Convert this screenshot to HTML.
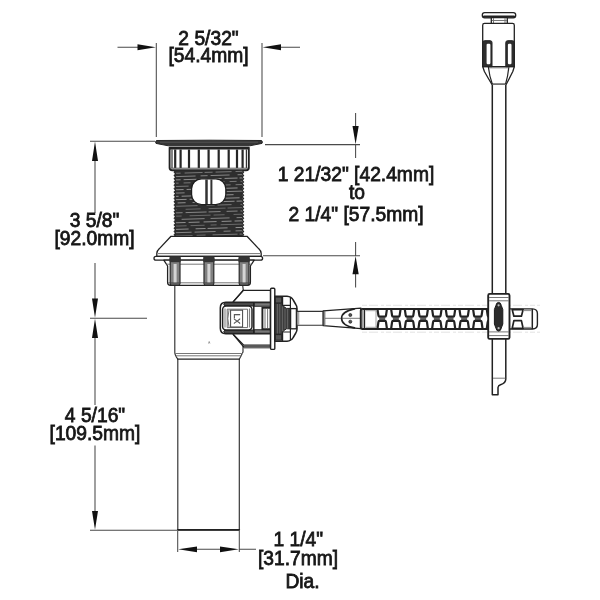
<!DOCTYPE html>
<html><head><meta charset="utf-8"><title>Drain dimensions</title>
<style>
html,body{margin:0;padding:0;background:#fff;width:600px;height:600px;overflow:hidden}
svg{display:block;opacity:.999;will-change:transform}
text{font-family:"Liberation Sans",sans-serif;font-size:19.8px;fill:#161616;stroke:#161616;stroke-width:.8px;text-anchor:middle}
.d{stroke:#4a4a4a;stroke-width:1.05;fill:none}
.a{fill:#111;stroke:none}
.o{stroke:#222;stroke-width:1.3;fill:#fff;stroke-linejoin:round}
.l{stroke:#222;stroke-width:1.2;fill:none;stroke-linecap:round;stroke-linejoin:round}
.g{stroke:#777;stroke-width:1;fill:none}
.k{fill:#333;stroke:#222;stroke-width:1}
</style></head><body>
<svg width="600" height="600" viewBox="0 0 600 600">
<rect width="600" height="600" fill="#fff"/>

<!-- ===== DIMENSIONS ===== -->
<g id="dims">
<!-- top width -->
<path class="d" d="M156.3 43V137M262 43V137M117.5 47.3H140M280 47.3H300"/>
<polygon class="a" points="155.8,47.3 137.5,44.3 137.5,50.3"/>
<polygon class="a" points="262.6,47.3 281,44.3 281,50.3"/>
<!-- left -->
<path class="d" d="M90 141.2H155M90 318.3H147M95 160V213M95 263V300M95 336V405M95 445.5V513M90 530.2H177"/>
<polygon class="a" points="95,141.6 92,161 98,161"/>
<polygon class="a" points="95,317.8 92,298.5 98,298.5"/>
<polygon class="a" points="95,318.8 92,338 98,338"/>
<polygon class="a" points="95,529.8 92,511 98,511"/>
<!-- right -->
<path class="d" d="M265 144.6H360M263 255.8H360M355.6 113V127M355.6 144V158M355.6 242V256M355.6 273V287.5"/>
<polygon class="a" points="355.6,144.2 352.5,126 358.7,126"/>
<polygon class="a" points="355.6,256 352.5,274.2 358.7,274.2"/>
<!-- bottom -->
<path class="d" d="M177.7 531V552M239.3 531V552M196 549.3H221M239.3 549.3H256"/>
<polygon class="a" points="178.2,549.3 197,546.4 197,552.2"/>
<polygon class="a" points="238.8,549.3 220,546.4 220,552.2"/>
</g>

<!-- ===== TEXT ===== -->
<g id="labels">
<text transform="translate(208.5 44.7) scale(.972 1)">2 5/32"</text>
<text transform="translate(208.5 61.7) scale(.972 1)">[54.4mm]</text>
<text transform="translate(94.5 226.7) scale(.972 1)">3 5/8"</text>
<text transform="translate(94.5 245) scale(.972 1)">[92.0mm]</text>
<text transform="translate(95 422.4) scale(.972 1)">4 5/16"</text>
<text transform="translate(95 440.4) scale(.972 1)">[109.5mm]</text>
<text transform="translate(356 180.8) scale(.972 1)">1 21/32" [42.4mm]</text>
<text transform="translate(357 199.2) scale(.972 1)">to</text>
<text transform="translate(356 221.4) scale(.972 1)">2 1/4" [57.5mm]</text>
<text transform="translate(298.3 546) scale(.972 1)">1 1/4"</text>
<text transform="translate(298 565) scale(.972 1)">[31.7mm]</text>
<text transform="translate(302.5 588.3) scale(.972 1)">Dia.</text>
</g>

<!-- ===== DRAIN BODY ===== -->
<g id="drain">
<!-- tailpiece + body -->
<path class="o" d="M174.8 284V352.5Q174.8 355 177.8 359.2V529.8H239.3V359.2L243 352V346.5L243.3 290.3L242.5 284Z" style="stroke:#303030;stroke-width:1.15"/>
<path class="l" style="stroke-width:1.7" d="M177.8 529.8H239.3"/>
<path class="g" d="M175 353.5H243M176 355.8H241.5"/>
<path class="l" d="M177.7 359.2H239.3"/>
<path d="M208.5 343.5l.7-2 .7 2" class="g" style="stroke-width:.7"/>
<!-- cap -->
<path d="M155.6 142L156.4 140.5Q209 139.9 261.6 140.5L262.4 142L262 143.4L249.8 145.8H168.4L156 143.4Z" fill="#363636" stroke="#262626" stroke-width="1" stroke-linejoin="round"/>
<path d="M160 142.2H258" stroke="#5c5c5c" stroke-width=".8" fill="none"/>
<!-- knurled nut -->
<path class="o" d="M169.6 147.8H248.8V167.7Q248.8 170.2 246.1 170.2H172.3Q169.6 170.2 169.6 167.7Z" style="stroke-width:1.9"/>
<path d="M175.2 149.5V168M180.6 149.5V168M189 149.5V168M198.8 149.5V168M208.6 149.5V168M218.7 149.5V168M228.7 149.5V168M237 149.5V168M242.6 149.5V168" stroke="#262626" stroke-width="2.2" fill="none"/>
<path d="M172 149.5V168M246.4 149.5V168" stroke="#333" stroke-width="1.2" fill="none"/>
<path d="M169.3 148.5H249" stroke="#222" stroke-width="2" fill="none"/>
<path class="g" d="M170.5 168.2H248" style="stroke:#555"/>
<!-- threaded body -->
<rect x="175" y="170.5" width="67.8" height="65.8" fill="#2e2e2e"/>
<g stroke-width=".8" fill="none"><path d="M175.6 173.3L242.4 171.3" stroke="#8a8a8a" stroke-dasharray="16 4 18 2 8 3" stroke-dashoffset="11"/><path d="M175.6 176.6L242.4 174.6" stroke="#9c9c9c" stroke-dasharray="22 5 7 3 19 8" stroke-dashoffset="2"/><path d="M175.6 179.9L242.4 177.9" stroke="#a8a8a8" stroke-dasharray="8 8 7 3 13 2" stroke-dashoffset="18"/><path d="M175.6 183.2L242.4 181.2" stroke="#8a8a8a" stroke-dasharray="7 5 7 4 15 8" stroke-dashoffset="4"/><path d="M175.6 186.5L242.4 184.5" stroke="#8a8a8a" stroke-dasharray="24 6 23 4 9 5" stroke-dashoffset="11"/><path d="M175.6 189.8L242.4 187.8" stroke="#a8a8a8" stroke-dasharray="23 3 24 2 25 5" stroke-dashoffset="15"/><path d="M175.6 193.1L242.4 191.1" stroke="#9c9c9c" stroke-dasharray="16 9 24 9 17 6" stroke-dashoffset="7"/><path d="M175.6 196.4L242.4 194.4" stroke="#a8a8a8" stroke-dasharray="13 3 24 6 22 9" stroke-dashoffset="10"/><path d="M175.6 199.7L242.4 197.7" stroke="#a8a8a8" stroke-dasharray="15 3 9 8 11 7" stroke-dashoffset="4"/><path d="M175.6 203.0L242.4 201.0" stroke="#a8a8a8" stroke-dasharray="19 2 8 7 16 7" stroke-dashoffset="19"/><path d="M175.6 206.3L242.4 204.3" stroke="#8a8a8a" stroke-dasharray="24 9 8 3 14 9" stroke-dashoffset="2"/><path d="M175.6 209.6L242.4 207.6" stroke="#777" stroke-dasharray="15 9 15 8 17 2" stroke-dashoffset="14"/><path d="M175.6 212.9L242.4 210.9" stroke="#9c9c9c" stroke-dasharray="11 3 21 2 12 6" stroke-dashoffset="4"/><path d="M175.6 216.2L242.4 214.2" stroke="#777" stroke-dasharray="18 8 21 3 11 9" stroke-dashoffset="12"/><path d="M175.6 219.5L242.4 217.5" stroke="#9c9c9c" stroke-dasharray="10 8 23 6 19 7" stroke-dashoffset="12"/><path d="M175.6 222.8L242.4 220.8" stroke="#a8a8a8" stroke-dasharray="10 3 11 4 13 5" stroke-dashoffset="0"/><path d="M175.6 226.1L242.4 224.1" stroke="#777" stroke-dasharray="24 4 14 6 6 4" stroke-dashoffset="13"/><path d="M175.6 229.4L242.4 227.4" stroke="#a8a8a8" stroke-dasharray="25 7 10 2 20 8" stroke-dashoffset="12"/><path d="M175.6 232.7L242.4 230.7" stroke="#9c9c9c" stroke-dasharray="18 3 21 8 7 5" stroke-dashoffset="2"/><path d="M175.6 236.0L242.4 234.0" stroke="#8a8a8a" stroke-dasharray="20 4 9 7 25 2" stroke-dashoffset="3"/></g>
<path d="M175.2 170.5L174.2 172.1L175.6 173.8L174.2 175.4L175.6 177.1L174.2 178.7L175.6 180.4L174.2 182.0L175.6 183.7L174.2 185.3L175.6 187.0L174.2 188.6L175.6 190.3L174.2 191.9L175.6 193.6L174.2 195.2L175.6 196.9L174.2 198.5L175.6 200.2L174.2 201.8L175.6 203.5L174.2 205.1L175.6 206.8L174.2 208.4L175.6 210.1L174.2 211.7L175.6 213.4L174.2 215.0L175.6 216.7L174.2 218.3L175.6 220.0L174.2 221.6L175.6 223.3L174.2 224.9L175.6 226.6L174.2 228.2L175.6 229.9L174.2 231.5L175.6 233.2L174.2 234.8L175.6 236.5" stroke="#2a2a2a" stroke-width="1.1" fill="none"/>
<path d="M242.6 170.5L243.6 172.1L242.2 173.8L243.6 175.4L242.2 177.1L243.6 178.7L242.2 180.4L243.6 182.0L242.2 183.7L243.6 185.3L242.2 187.0L243.6 188.6L242.2 190.3L243.6 191.9L242.2 193.6L243.6 195.2L242.2 196.9L243.6 198.5L242.2 200.2L243.6 201.8L242.2 203.5L243.6 205.1L242.2 206.8L243.6 208.4L242.2 210.1L243.6 211.7L242.2 213.4L243.6 215.0L242.2 216.7L243.6 218.3L242.2 220.0L243.6 221.6L242.2 223.3L243.6 224.9L242.2 226.6L243.6 228.2L242.2 229.9L243.6 231.5L242.2 233.2L243.6 234.8L242.2 236.5" stroke="#2a2a2a" stroke-width="1.1" fill="none"/>
<rect x="191.6" y="178.8" width="34.2" height="25.8" rx="10" fill="#fff" stroke="#1d1d1d" stroke-width="1.2"/>
<path d="M206.5 179.5V204" stroke="#333" stroke-width="2.5" fill="none"/><path d="M211.4 179.5V204" stroke="#333" stroke-width="2" fill="none"/>
<!-- flange / gasket -->
<path class="o" d="M171 236.3H247L258.6 248.6Q261.2 251 261.2 253.5V256.3H156.8V253.5Q156.8 251 159.4 248.6Z"/>
<path class="g" d="M158 253.6H260"/>
<path class="o" d="M156 256.3H260.5Q262.6 256.3 262.6 258.2Q262.6 260.2 260.5 260.2H156Q154 260.2 154 258.2Q154 256.3 156 256.3Z"/>
<!-- mounting nut -->
<path class="o" d="M163.8 260.2H254.2L250.4 266V282.5Q250.4 285.3 247.5 285.3H170.5Q167.6 285.3 167.6 282.5V266Z"/>
<path class="g" d="M166.5 264.2H251.5M168 282.8H250"/>
<!-- screws -->
<g stroke="#2a2a2a" stroke-width="1.2">
<rect x="170.2" y="256.8" width="9.8" height="28.2" rx="1.5" fill="#808080"/>
<rect x="204" y="256.8" width="9.8" height="28.2" rx="1.5" fill="#808080"/>
<rect x="239.2" y="256.8" width="9.8" height="28.2" rx="1.5" fill="#808080"/>
</g>
<g fill="#d4d4d4" stroke="none">
<rect x="173.6" y="264" width="3" height="19"/><rect x="207.4" y="264" width="3" height="19"/><rect x="242.6" y="264" width="3" height="19"/>
</g>
<g fill="#333" stroke="none">
<rect x="169.6" y="256.4" width="11" height="5.8"/><rect x="203.4" y="256.4" width="11" height="5.8"/><rect x="238.6" y="256.4" width="11" height="5.8"/>
</g>
<path class="g" d="M171 283H179.4M204.8 283H213M240 283H248.4" style="stroke:#3a3a3a"/>
</g>
<!-- ===== PIVOT ===== -->
<g id="pivot">
<!-- branch -->
<path class="o" d="M243.3 290.3H270.5V347H243.8L233.3 334.5V301.7Z"/>
<path class="l" d="M243.3 290.3L233.3 301.7M233.3 334.5L243.8 345.2H270.5"/>
<path class="g" d="M244 348H270.5"/>
<!-- clip -->
<path class="o" d="M270.5 302.2H225.8Q220.3 302.2 220.3 307.7V328.3Q220.3 333.8 225.8 333.8H270.5Z" style="stroke-width:1.5"/>
<path d="M225 302.6H254V306H225Q222.5 304.3 225 302.6ZM225 333.4H254V330H225Q222.5 331.7 225 333.4Z" fill="#4a4a4a" stroke="#222" stroke-width="1"/>
<path d="M254 302.8H270.4V306.2H254ZM254 329.8H270.4V333.2H254Z" fill="#777" stroke="#222" stroke-width="1.1"/>
<path class="l" d="M253.8 303V333" style="stroke-width:1.5"/>
<rect x="222.6" y="306" width="29.4" height="24" rx="3.5" fill="#fff" stroke="#222" stroke-width="1.5"/>
<path d="M227.2 309.2H247.6V327.6H227.2Z" fill="#fff" stroke="#6a6a6a" stroke-width="1"/>
<path class="g" d="M225 308.5V327.5M249.6 308.5V327.5"/>
<path d="M229 310Q226.6 318.5 229 327" class="g"/>
<rect x="230.6" y="310.2" width="12" height="16.8" fill="#fff" stroke="#444" stroke-width="1"/>
<text transform="translate(233.8 318.7) rotate(90)" x="0" y="0" style="font-size:8.6px;stroke-width:.3px;fill:#444;stroke:#444">LX</text>
<rect x="262.4" y="307.8" width="8.2" height="21.4" fill="#fff" stroke="#222" stroke-width="1.9"/>
<path class="g" d="M265 309V328M267.6 309V328"/>
<!-- flange plate -->
<rect class="o" x="270.6" y="288.2" width="4.2" height="61.2" rx="1" style="stroke-width:1.4"/>
<!-- nut -->
<path class="o" d="M274.8 296.3H287Q291.5 296.6 293.2 300L295.8 304.5Q297 306 297 308.5V329Q297 331.5 295.8 333L293.2 337.5Q291.5 340.8 287 341.2H274.8Z" style="stroke-width:1.5"/>
<path d="M275 303.2H281.5Q283 307 286.5 308.4H290.4V328.8H286.5Q283 330.2 281.5 334.2H275Z" fill="#3c3c3c" stroke="#222" stroke-width="1"/>
<path d="M277.4 304V333.5M279.8 304V333.5M282.4 306.5V331M285 308.5V329M287.6 308.8V328.6" stroke="#777" stroke-width=".7" fill="none"/>
<rect x="275.4" y="297.3" width="6.2" height="5.6" fill="#555" stroke="#222" stroke-width="1"/>
<rect x="275.4" y="334.6" width="6.2" height="5.6" fill="#555" stroke="#222" stroke-width="1"/>
<path class="l" d="M282.6 297V304.5M282.6 333V340.5M290.4 298V308.4M290.4 328.8V339.5M282.6 305.4H290.4M282.6 332H290.4"/>
<rect x="290.6" y="308.6" width="5.8" height="20.2" fill="#fff" stroke="#222" stroke-width="1.3"/>
<!-- rod -->
<path d="M297 311.4H323.2V325.3H297Z" fill="#fff" stroke="#333" stroke-width="1.1"/>
<path d="M298.6 312V325" stroke="#aaa" stroke-width="1.4" fill="none"/>
<path class="o" d="M323.2 310.9L361 308.2V328.6L323.2 325.7Z" style="stroke-width:1.2"/>
<path class="g" d="M324.8 311V325.5" style="stroke:#555"/>
<path class="g" d="M325 318.3H360.5" style="stroke:#666;stroke-width:.9"/>
<path d="M354.5 308.9Q341.6 311.5 341.6 318.4Q341.6 325.3 354.5 327.9" fill="none" stroke="#222" stroke-width="1.6" stroke-linecap="round"/>
<circle cx="350.3" cy="315" r="1.5" fill="#555" stroke="#2a2a2a" stroke-width=".8"/><circle cx="350.3" cy="321.7" r="1.5" fill="#555" stroke="#2a2a2a" stroke-width=".8"/>
<!-- strap -->
<path d="M362 305.3H540M362 332.2H540" stroke="#dcdcdc" stroke-width=".8" stroke-dasharray="5 2 9 3 3 2" fill="none"/>
<path d="M362.6 308.9H500V328.9H362.6Q360.8 328.9 360.8 327V310.8Q360.8 308.9 362.6 308.9Z" fill="#fff" stroke="#222" stroke-width="2"/>
<path d="M364.4 309V329" stroke="#222" stroke-width="1.5" fill="none"/>
<path d="M362.4 309.5V328.3" stroke="#666" stroke-width=".7" fill="none"/>
<path d="M365.5 310.7H376V327.3H365.5" stroke="#8a8a8a" stroke-width=".8" fill="none"/>
<path d="M379.20 318.75H385.20M392.86 318.75H398.86M406.52 318.75H412.52M420.18 318.75H426.18M433.84 318.75H439.84M447.50 318.75H453.50M461.16 318.75H467.16M474.82 318.75H480.82M488.48 318.75H494.48" stroke="#606060" stroke-width="2.4" fill="none"/>
<path d="M377.50 309.4L378.40 315.4Q378.50 316.6 379.60 316.6H384.80Q385.90 316.6 386.00 315.4L386.90 309.4M377.50 328.5L378.40 322.1Q378.50 320.9 379.60 320.9H384.80Q385.90 320.9 386.00 322.1L386.90 328.5M391.16 309.4L392.06 315.4Q392.16 316.6 393.26 316.6H398.46Q399.56 316.6 399.66 315.4L400.56 309.4M391.16 328.5L392.06 322.1Q392.16 320.9 393.26 320.9H398.46Q399.56 320.9 399.66 322.1L400.56 328.5M404.82 309.4L405.72 315.4Q405.82 316.6 406.92 316.6H412.12Q413.22 316.6 413.32 315.4L414.22 309.4M404.82 328.5L405.72 322.1Q405.82 320.9 406.92 320.9H412.12Q413.22 320.9 413.32 322.1L414.22 328.5M418.48 309.4L419.38 315.4Q419.48 316.6 420.58 316.6H425.78Q426.88 316.6 426.98 315.4L427.88 309.4M418.48 328.5L419.38 322.1Q419.48 320.9 420.58 320.9H425.78Q426.88 320.9 426.98 322.1L427.88 328.5M432.14 309.4L433.04 315.4Q433.14 316.6 434.24 316.6H439.44Q440.54 316.6 440.64 315.4L441.54 309.4M432.14 328.5L433.04 322.1Q433.14 320.9 434.24 320.9H439.44Q440.54 320.9 440.64 322.1L441.54 328.5M445.80 309.4L446.70 315.4Q446.80 316.6 447.90 316.6H453.10Q454.20 316.6 454.30 315.4L455.20 309.4M445.80 328.5L446.70 322.1Q446.80 320.9 447.90 320.9H453.10Q454.20 320.9 454.30 322.1L455.20 328.5M459.46 309.4L460.36 315.4Q460.46 316.6 461.56 316.6H466.76Q467.86 316.6 467.96 315.4L468.86 309.4M459.46 328.5L460.36 322.1Q460.46 320.9 461.56 320.9H466.76Q467.86 320.9 467.96 322.1L468.86 328.5M473.12 309.4L474.02 315.4Q474.12 316.6 475.22 316.6H480.42Q481.52 316.6 481.62 315.4L482.52 309.4M473.12 328.5L474.02 322.1Q474.12 320.9 475.22 320.9H480.42Q481.52 320.9 481.62 322.1L482.52 328.5M486.78 309.4L487.68 315.4Q487.78 316.6 488.88 316.6H494.08Q495.18 316.6 495.28 315.4L496.18 309.4M486.78 328.5L487.68 322.1Q487.78 320.9 488.88 320.9H494.08Q495.18 320.9 495.28 322.1L496.18 328.5" fill="none" stroke="#222" stroke-width="2.2" stroke-linejoin="round"/>
<path d="M508 308.9H532.5Q537.4 309.2 537.4 313.5V324.4Q537.4 328.7 532.5 329H508Z" fill="#fff" stroke="#222" stroke-width="1.4" stroke-linejoin="round"/>
<path d="M512.2 309.6H523.1L521.4 316.2H513.9ZM512.2 328.3H523.1L521.4 320.6H513.9Z" fill="#fff" stroke="#222" stroke-width="1.7" stroke-linejoin="round"/>
<path d="M532.3 309V329" stroke="#222" stroke-width="1.5" fill="none"/>
<path class="g" d="M523.5 310.6H531.8M523.5 327.4H531.8" style="stroke:#8a8a8a"/>
</g>
<!-- ===== LIFT ROD ===== -->
<g id="rod">
<!-- vertical rod -->
<path class="o" d="M492.3 84V394.7H498V387.5Q498.2 385.6 500.5 384.8Q505.8 383 505.8 379V84Z" style="stroke-width:1.5"/>
<path class="g" d="M493 378.2H505.3"/>
<!-- knob -->
<rect class="o" x="482.3" y="12.6" width="33.4" height="5.2" rx="2.4"/>
<path d="M484 16.6H514" stroke="#222" stroke-width="2.2" stroke-linecap="round" fill="none"/>
<rect class="o" x="491.3" y="17.6" width="16" height="6"/>
<path class="g" d="M493.5 18V23.5M505 18V23.5M492 20.5H507"/>
<path class="o" d="M484.5 23.4H512.5Q514.3 23.4 514.3 25.2V66.7H482.7V25.2Q482.7 23.4 484.5 23.4Z"/>
<path class="o" d="M482.8 66.7L484.4 71.5Q488 78 491.8 84.2H506.3Q509.6 78 512.8 71.5L514.3 66.7Z"/>
<path class="l" d="M488.4 67.3Q489.4 76 492.3 84M508.8 67.3Q508 76 505.6 84"/>
<path class="g" d="M489 67.8H508.4M492.4 84.4H505.8"/>
<path d="M482.7 66.7V42.5Q482.7 40.7 484.5 40.7H490.2Q492 40.7 492 42.5V66.7Z" fill="#2e2e2e" stroke="#222" stroke-width="1"/>
<path d="M505.8 66.7V42.5Q505.8 40.7 507.6 40.7H512.5Q514.3 40.7 514.3 42.5V66.7Z" fill="#2e2e2e" stroke="#222" stroke-width="1"/>
<rect x="486.6" y="43.8" width="3.8" height="20.4" rx="1.2" fill="#fff"/>
<rect x="507.9" y="43.8" width="3.6" height="20.4" rx="1.2" fill="#fff"/>
<!-- clamp -->
<rect class="o" x="488.2" y="293.9" width="21.3" height="45" rx="1.5" style="stroke-width:1.9"/>
<path class="g" d="M489 297.5H509M489 300.8H509M489 331.9H509M489 335.6H509"/>
<path d="M498.6 302.4Q500.8 302.4 501.3 305.5L502.8 309.5V324L501.3 328Q500.8 331.1 498.6 331.1Q496.4 331.1 495.9 328L494.4 324V309.5L495.9 305.5Q496.4 302.4 498.6 302.4Z" fill="#2c2c2c" stroke="#1c1c1c" stroke-width="1"/>
<circle cx="498.6" cy="305.3" r="1.1" fill="#bbb"/><circle cx="498.6" cy="328.2" r="1.1" fill="#bbb"/>
</g>
</svg>
</body></html>
